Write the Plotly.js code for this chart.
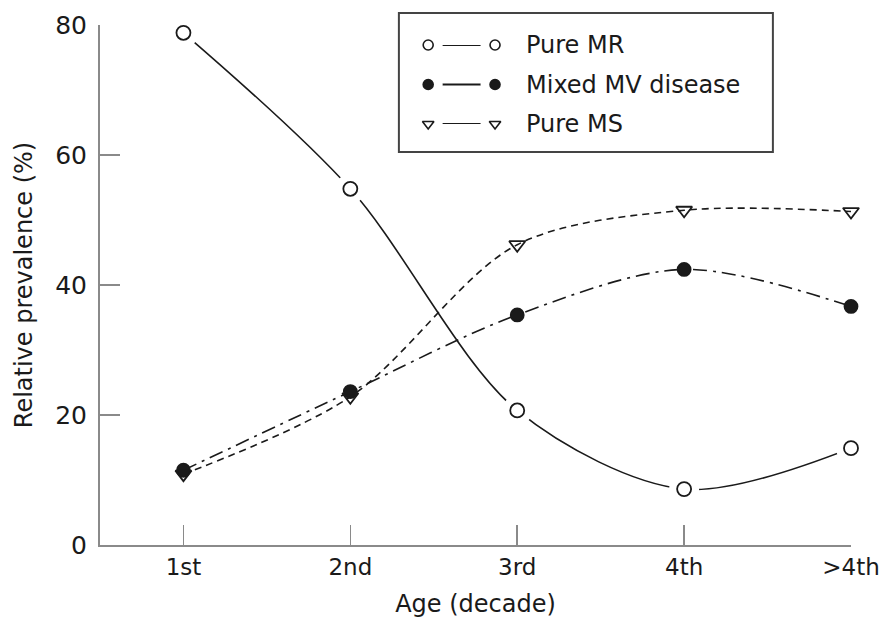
<!DOCTYPE html>
<html>
<head>
<meta charset="utf-8">
<script src="https://cdn.plot.ly/plotly-3.0.1.min.js"></script>
<style>html,body{margin:0;padding:0;background:#fff;}#chart{width:883px;height:624px;}</style>
</head>
<body>
<div id="chart"></div>
<script>
// ---- data ----
const decades = ['1st', '2nd', '3rd', '4th', '>4th'];
const pureMR = [78.8, 54.8, 20.7, 8.6, 14.9];
const mixedMV = [11.5, 23.6, 35.4, 42.4, 36.7];
const pureMS = [10.9, 22.8, 46.2, 51.5, 51.3];
const seriesNames = ['Pure MR', 'Mixed MV disease', 'Pure MS'];
const yTicks = [0, 20, 40, 60, 80];

// ---- styles ----
const FONT = 'DejaVu Sans, sans-serif';
const INK = '#1a1a1a';
const AXIS = '#8a8a8a';
const styles = [
  {dash: 'solid', symbol: 'circle-open', size: 14, gap: 30},
  {dash: '14px,6px,3px,6px', symbol: 'circle', size: 13, gap: 0},
  {dash: '7px,5px', symbol: 'triangle-down-open', size: 14, gap: 0}
];
const values = [pureMR, mixedMV, pureMS];

const traces = [];
// lines
values.forEach((v, i) => {
  traces.push({
    x: decades, y: v, type: 'scatter', mode: 'lines', name: seriesNames[i],
    line: {shape: 'spline', smoothing: 0.9, color: INK, width: 1.6, dash: styles[i].dash},
    showlegend: false, hoverinfo: 'skip', cliponaxis: false
  });
});
// white gaps around markers
values.forEach((v, i) => {
  if (!styles[i].gap) return;
  traces.push({
    x: decades, y: v, type: 'scatter', mode: 'markers',
    marker: {symbol: 'circle', size: styles[i].gap, color: '#ffffff', line: {width: 0}},
    showlegend: false, hoverinfo: 'skip', cliponaxis: false
  });
});
// markers
values.forEach((v, i) => {
  traces.push({
    x: decades, y: v, type: 'scatter', mode: 'markers', name: seriesNames[i],
    marker: {symbol: styles[i].symbol, size: styles[i].size, color: INK, line: {width: 1.8, color: INK}},
    showlegend: false, cliponaxis: false
  });
});

// ---- custom legend glyphs (on hidden axes x2/y2) ----
const legendRows = seriesNames.map((n, i) => seriesNames.length - 1 - i);
seriesNames.forEach((n, i) => {
  const r = legendRows[i];
  traces.push({x: [0, 1], y: [r, r], xaxis: 'x2', yaxis: 'y2', type: 'scatter', mode: 'lines',
    line: {color: INK, width: 1.8}, showlegend: false, hoverinfo: 'skip', cliponaxis: false});
  traces.push({x: [0, 1], y: [r, r], xaxis: 'x2', yaxis: 'y2', type: 'scatter', mode: 'markers',
    marker: {symbol: 'circle', size: 29, color: '#ffffff'}, showlegend: false, hoverinfo: 'skip', cliponaxis: false});
  traces.push({x: [0, 1], y: [r, r], xaxis: 'x2', yaxis: 'y2', type: 'scatter', mode: 'markers',
    marker: {symbol: styles[i].symbol, size: 10, color: INK, line: {width: 1.6, color: INK}},
    showlegend: false, hoverinfo: 'skip', cliponaxis: false});
});

// legend geometry (paper coords)
const L = {x0: 0.398, x1: 0.896, y0: 0.756, y1: 1.023, gx0: 0.437, gx1: 0.526, gy0: 0.8096, gy1: 0.9615, tx: 0.5646};
const annotations = seriesNames.map((n, i) => ({
  text: n, xref: 'paper', yref: 'paper', x: L.tx,
  y: L.gy0 + (L.gy1 - L.gy0) * legendRows[i] / (seriesNames.length - 1),
  xanchor: 'left', yanchor: 'middle', showarrow: false,
  font: {family: FONT, size: 24, color: INK}
}));

const layout = {
  width: 883, height: 624,
  margin: {l: 100, r: 32, t: 25, b: 79},
  paper_bgcolor: '#ffffff', plot_bgcolor: '#ffffff',
  showlegend: false,
  font: {family: FONT, size: 23, color: INK},
  xaxis: {
    type: 'category', categoryorder: 'array', categoryarray: decades,
    range: [-0.5, 4], showgrid: false, zeroline: false,
    showline: true, linecolor: AXIS, linewidth: 2,
    ticks: 'inside', ticklen: 20, tickwidth: 1.5, tickcolor: AXIS,
    ticklabelstandoff: 0,
    tickfont: {family: FONT, size: 23, color: INK},
    title: {text: 'Age (decade)', font: {family: FONT, size: 24, color: INK}, standoff: 17}
  },
  yaxis: {
    range: [0, 80], tickvals: yTicks, ticktext: yTicks.map(String),
    showgrid: false, zeroline: false,
    showline: true, linecolor: AXIS, linewidth: 2,
    ticks: 'inside', ticklen: 20, tickwidth: 1.5, tickcolor: AXIS,
    ticklabelstandoff: 6,
    tickfont: {family: FONT, size: 25, color: INK},
    title: {text: 'Relative prevalence (%)', font: {family: FONT, size: 24, color: INK}, standoff: 16}
  },
  xaxis2: {domain: [L.gx0, L.gx1], range: [0, 1], visible: false, anchor: 'y2', fixedrange: true},
  yaxis2: {domain: [L.gy0, L.gy1], range: [0, 2], visible: false, anchor: 'x2', fixedrange: true},
  shapes: [{type: 'rect', xref: 'paper', yref: 'paper', x0: L.x0, x1: L.x1, y0: L.y0, y1: L.y1,
    line: {color: '#444', width: 2}, fillcolor: 'rgba(0,0,0,0)', layer: 'below'}],
  annotations: annotations
};

Plotly.newPlot('chart', traces, layout, {staticPlot: true, displayModeBar: false});
</script>
</body>
</html>
